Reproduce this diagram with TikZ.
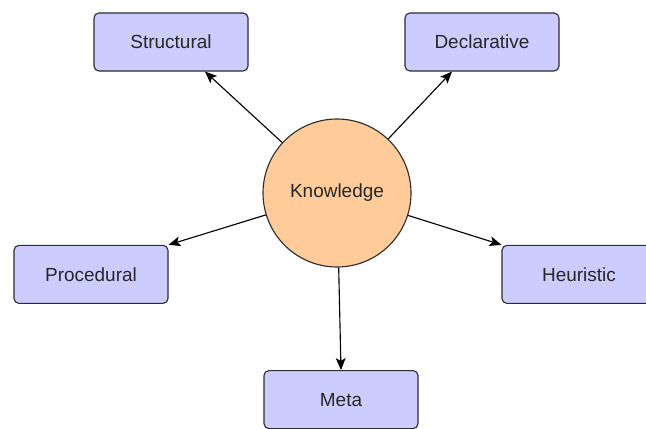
\documentclass[tikz,border=0pt]{standalone}
\usepackage{fontspec}
\setmainfont{Liberation Sans}
\usepackage{tikz}
\usetikzlibrary{shapes.geometric, arrows, arrows.meta, calc, positioning}
\definecolor{boxblue}{RGB}{204,204,255}
\definecolor{knoworange}{RGB}{255,204,153}
\definecolor{edgegray}{RGB}{45,45,45}
\tikzstyle{kind} = [rectangle, rounded corners=3.5pt, line width=0.8pt, minimum width=3.85cm, minimum height=1.45cm, text centered, draw=edgegray, fill=boxblue, text=black!85, font=\fontsize{13.5}{16}\selectfont]
\tikzstyle{core} = [circle, line width=0.8pt, minimum size=3.7cm, text centered, draw=edgegray, fill=knoworange, text=black!85, font=\fontsize{13.5}{16}\selectfont]
\tikzstyle{arrow} = [line width=0.8pt,-{Stealth[length=8.5pt,width=7pt,inset=2pt]}]

\begin{document}
\begin{tikzpicture}
		\useasboundingbox (0,0) rectangle (16.15,10.7);
		\clip (0,0) rectangle (16.15,10.7);
		\node (Knowledge) [core] at (8.425,5.875) {Knowledge};
		\node (Structural) [kind] at (4.275,9.65) {Structural};
		\node (Declarative) [kind] at (12.05,9.65) {Declarative};
		\node (Procedural) [kind] at (2.275,3.84) {Procedural};
		\node (Heuristic) [kind] at (14.475,3.84) {Heuristic};
		\node (Meta) [kind] at (8.525,0.71) {Meta};
		\draw [arrow] (Knowledge) -- ([xshift=0.85cm]Structural.south);
		\draw [arrow] (Knowledge) -- ([xshift=-0.75cm]Declarative.south);
		\draw [arrow] (Knowledge) -- (Procedural.north east);
		\draw [arrow] (Knowledge) -- (Heuristic.north west);
		\draw [arrow] (Knowledge) -- (Meta.north);
	\end{tikzpicture}
\end{document}
